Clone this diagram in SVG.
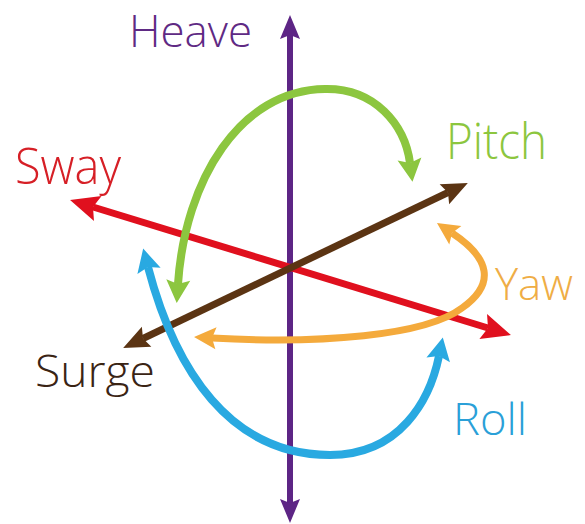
<svg xmlns="http://www.w3.org/2000/svg" width="585" height="524" viewBox="0 0 585 524">
  <style>
    .lbl { font-family: "Open Sans", "Liberation Sans", sans-serif; font-weight: 300; }
    .ax { fill: none; stroke-linecap: butt; }
  </style>
  <defs>
    <marker id="hPurple" markerUnits="userSpaceOnUse" markerWidth="40" markerHeight="40" refX="0" refY="0" viewBox="-10 -20 40 40" orient="auto-start-reverse" overflow="visible">
      <path d="M-4,-10 L20,0 L-4,10 L0,0 Z" fill="#5d2585"/>
    </marker>
    <marker id="hRed" markerUnits="userSpaceOnUse" markerWidth="40" markerHeight="40" refX="0" refY="0" viewBox="-10 -20 40 40" orient="auto-start-reverse" overflow="visible">
      <path d="M-5,-13 L24,0 L-5,13 L0,0 Z" fill="#e0101e"/>
    </marker>
    <marker id="hBrown" markerUnits="userSpaceOnUse" markerWidth="40" markerHeight="40" refX="0" refY="0" viewBox="-10 -20 40 40" orient="auto-start-reverse" overflow="visible">
      <path d="M-4,-11 L22,0 L-4,11 L0,0 Z" fill="#5b3413"/>
    </marker>
    <marker id="hGreen" markerUnits="userSpaceOnUse" markerWidth="40" markerHeight="40" refX="0" refY="0" viewBox="-10 -20 40 40" orient="auto-start-reverse" overflow="visible">
      <path d="M-4,-12 L19,0 L-4,12 L0,0 Z" fill="#8cc63f"/>
    </marker>
    <marker id="hOrange" markerUnits="userSpaceOnUse" markerWidth="40" markerHeight="40" refX="0" refY="0" viewBox="-10 -20 40 40" orient="auto-start-reverse" overflow="visible">
      <path d="M-4,-11 L18,0 L-4,11 L0,0 Z" fill="#f4aa3c"/>
    </marker>
    <marker id="hBlue" markerUnits="userSpaceOnUse" markerWidth="40" markerHeight="40" refX="0" refY="0" viewBox="-10 -20 40 40" orient="auto-start-reverse" overflow="visible">
      <path d="M-4,-12 L19,0 L-4,12 L0,0 Z" fill="#29a9e1"/>
    </marker>
  </defs>
  <rect width="585" height="524" fill="#ffffff"/>

  <g id="connectors">
    <path id="heave-axis" class="ax" d="M290,35 L290,503" stroke="#5d2585" stroke-width="6" marker-start="url(#hPurple)" marker-end="url(#hPurple)"/>
    <path id="sway-axis" class="ax" d="M93,207 L488,328" stroke="#e0101e" stroke-width="7" marker-start="url(#hRed)" marker-end="url(#hRed)"/>
    <path id="surge-axis" class="ax" d="M448,192.5 L143,338.5" stroke="#5b3413" stroke-width="7" marker-start="url(#hBrown)" marker-end="url(#hBrown)"/>
    <path id="pitch-arc" class="ax" d="M178,284 C185,180 240,90 325,89 C375,88 405,125 410,163" stroke="#8cc63f" stroke-width="8" marker-start="url(#hGreen)" marker-end="url(#hGreen)"/>
    <path id="yaw-arc" class="ax" d="M212,338 C320,344 425,336 462,308 C496,284 490,258 452,233" stroke="#f4aa3c" stroke-width="7" marker-start="url(#hOrange)" marker-end="url(#hOrange)"/>
    <path id="roll-arc" class="ax" d="M148,267 C175,370 230,455 330,455 C400,455 430,400 439,356" stroke="#29a9e1" stroke-width="8" marker-start="url(#hBlue)" marker-end="url(#hBlue)"/>
  </g>

  <g id="heave"><text class="lbl" x="129" y="47" font-size="45" fill="#5f2a84" textLength="123" lengthAdjust="spacingAndGlyphs">Heave</text></g>
  <g id="pitch"><text class="lbl" x="446" y="159" font-size="50" fill="#8cc63e" textLength="101" lengthAdjust="spacingAndGlyphs">Pitch</text></g>
  <g id="sway"><text class="lbl" x="15" y="184" font-size="50" fill="#d61f26" textLength="106" lengthAdjust="spacingAndGlyphs">Sway</text></g>
  <g id="yaw"><text class="lbl" x="495" y="300" font-size="45" fill="#efad45" textLength="78" lengthAdjust="spacingAndGlyphs">Yaw</text></g>
  <g id="surge"><text class="lbl" x="35" y="387" font-size="45" fill="#3a2414" textLength="120" lengthAdjust="spacingAndGlyphs">Surge</text></g>
  <g id="roll"><text class="lbl" x="453" y="435" font-size="45" fill="#2aa0d8" textLength="74" lengthAdjust="spacingAndGlyphs">Roll</text></g>
</svg>
